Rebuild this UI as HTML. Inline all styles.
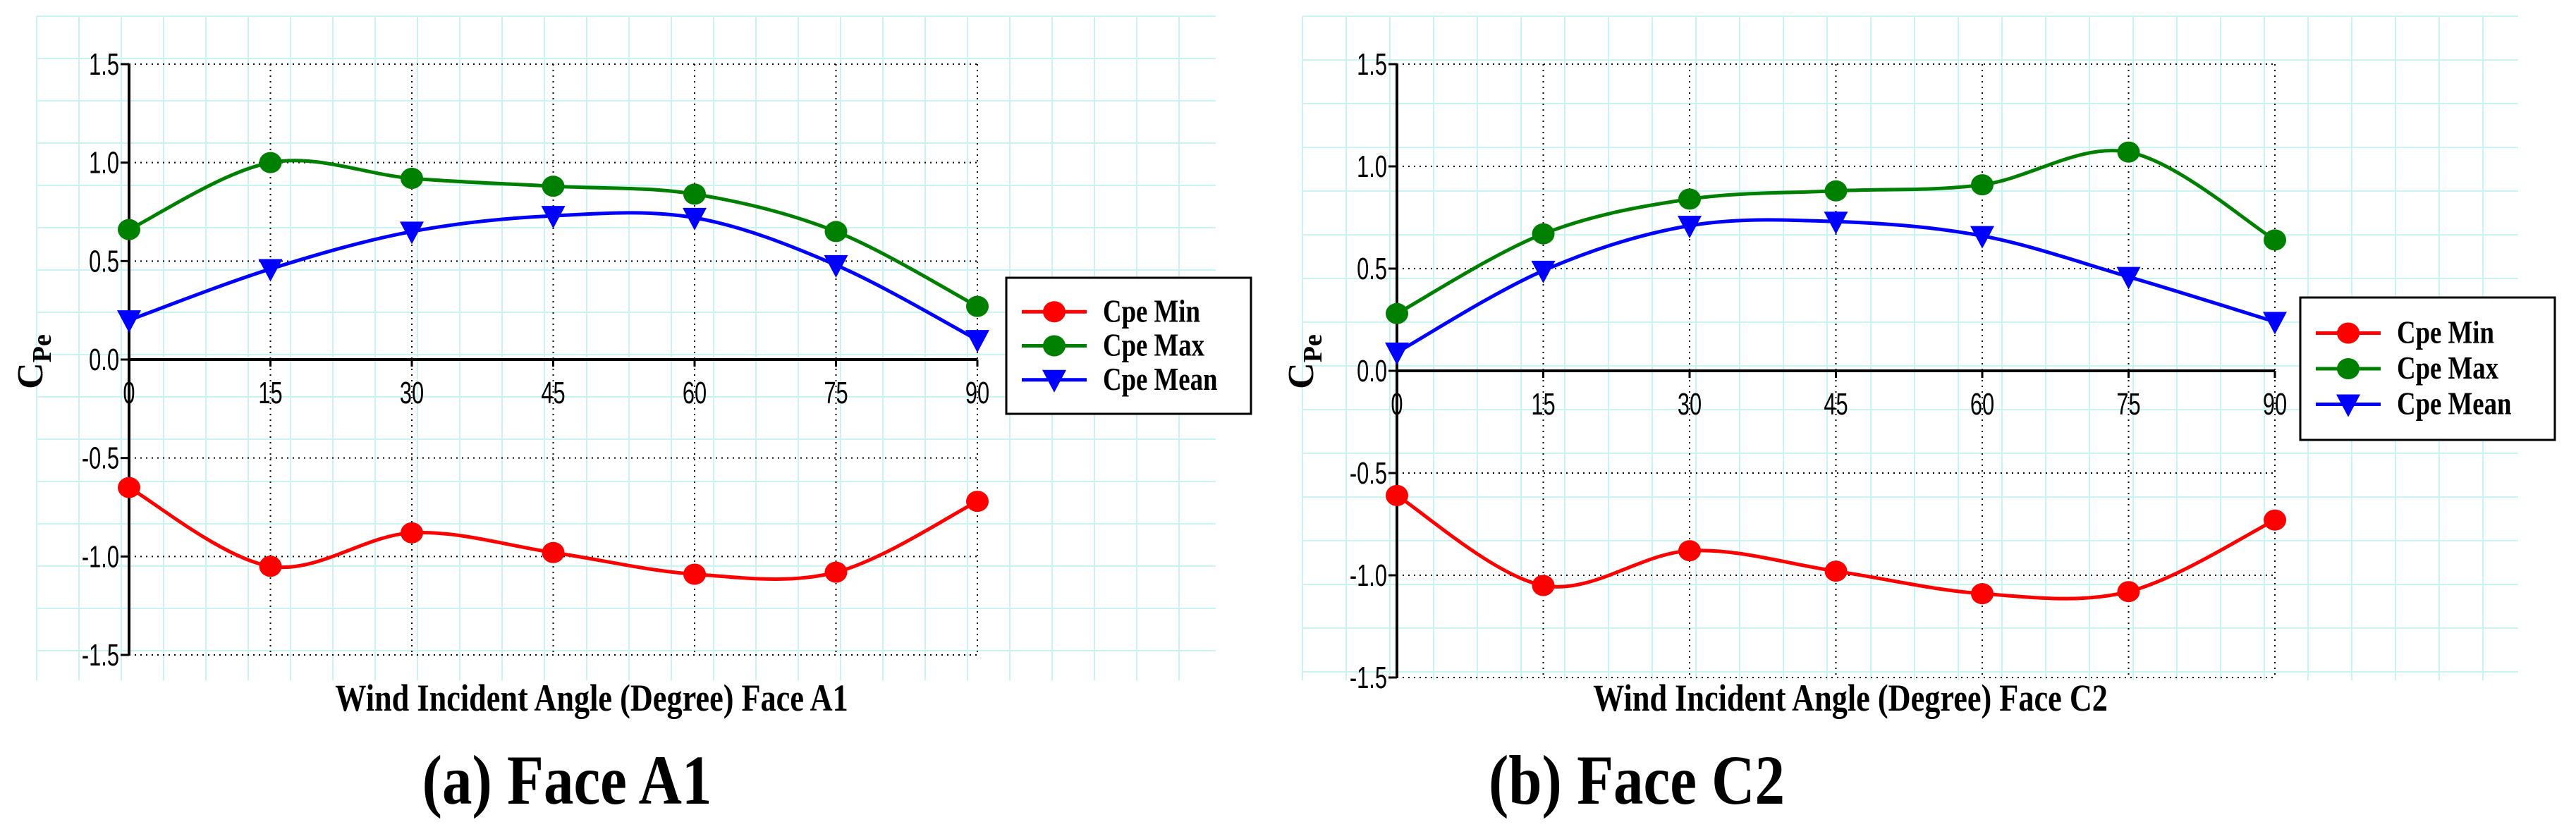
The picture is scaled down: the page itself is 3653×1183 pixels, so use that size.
<!DOCTYPE html>
<html><head><meta charset="utf-8"><style>
html,body{margin:0;padding:0;background:#fff;}
svg{display:block;}
</style></head><body>
<svg id="fig" width="3653" height="1183" viewBox="0 0 3653 1183" xmlns="http://www.w3.org/2000/svg"></svg>
<script>
const angles = [0, 15, 30, 45, 60, 75, 90];
const yTicks = [1.5, 1.0, 0.5, 0.0, -0.5, -1.0, -1.5];
const yTickLabels = ["1.5", "1.0", "0.5", "0.0", "-0.5", "-1.0", "-1.5"];
const seriesNames = ["Cpe Min", "Cpe Max", "Cpe Mean"];
const a1Min = [-0.65, -1.05, -0.88, -0.98, -1.09, -1.08, -0.72];
const a1Max = [0.66, 1.00, 0.92, 0.88, 0.84, 0.65, 0.27];
const a1Mean = [0.20, 0.46, 0.65, 0.73, 0.72, 0.48, 0.10];
const c2Min = [-0.61, -1.05, -0.88, -0.98, -1.09, -1.08, -0.73];
const c2Max = [0.28, 0.67, 0.84, 0.88, 0.91, 1.07, 0.64];
const c2Mean = [0.09, 0.49, 0.71, 0.73, 0.66, 0.46, 0.24];

const NS = "http://www.w3.org/2000/svg";
const svg = document.getElementById("fig");
function mk(tag, attrs, parent) {
  const e = document.createElementNS(NS, tag);
  for (const k in attrs) e.setAttribute(k, attrs[k]);
  (parent || svg).appendChild(e);
  return e;
}
function ctext(x, y, sx, attrs, parent) {
  const a = Object.assign({transform: "translate(" + x + "," + y + ") scale(" + sx + ",1)"}, attrs);
  return mk("text", a, parent);
}
function spline(pts) {
  let d = "M" + pts[0][0] + "," + pts[0][1];
  for (let i = 0; i < pts.length - 1; i++) {
    const p0 = pts[i - 1] || pts[i], p1 = pts[i], p2 = pts[i + 1], p3 = pts[i + 2] || p2;
    const c1x = p1[0] + (p2[0] - p0[0]) / 6, c1y = p1[1] + (p2[1] - p0[1]) / 6;
    const c2x = p2[0] - (p3[0] - p1[0]) / 6, c2y = p2[1] - (p3[1] - p1[1]) / 6;
    d += " C" + c1x + "," + c1y + " " + c2x + "," + c2y + " " + p2[0] + "," + p2[1];
  }
  return d;
}
function drawChart(cfg, mins, maxs, means) {
  const g = mk("g", {});
  
  
  const X = v => cfg.x0 + (v - 0) / 90 * (cfg.x90 - cfg.x0);
  const Y = v => cfg.y0 - v / 1.5 * (cfg.y0 - cfg.yTop);
  const bg = mk("g", {stroke: "#c8f4f4", "stroke-width": 2}, g);
  
  
  for (let x = cfg.bx0; x <= cfg.bx1 + 1; x += cfg.bs) mk("line", {x1: x, y1: cfg.by0, x2: x, y2: cfg.by1}, bg);
  for (let y = cfg.by0; y <= cfg.by1 + 1; y += cfg.bs) mk("line", {x1: cfg.bx0, y1: y, x2: cfg.bx1, y2: y}, bg);
  yTicks.forEach((t, i) => {
    const y = Y(t);
    if (t !== 0) {
      const l = mk("line", {x1: X(0), y1: y, x2: X(90), y2: y, stroke: "#000", "stroke-width": 2, "stroke-dasharray": "2,6"}, g);
      
      
    }
    mk("line", {x1: X(0) - 12, y1: y, x2: X(0), y2: y, stroke: "#000", "stroke-width": 3}, g);
    const tl = ctext(X(0) - 14, y + 15, 0.7, {"text-anchor": "end", "font-family": "Liberation Sans, sans-serif", "font-size": 44, fill: "#000"}, g);
    tl.textContent = yTickLabels[i];
    
    
  });
  angles.forEach(a => {
    const x = X(a);
    if (a !== 0) {
      const l = mk("line", {x1: x, y1: Y(1.5), x2: x, y2: Y(-1.5), stroke: "#000", "stroke-width": 2, "stroke-dasharray": "2,6"}, g);
      
      
    }
    mk("line", {x1: x, y1: Y(0), x2: x, y2: Y(0) + 10, stroke: "#000", "stroke-width": 3}, g);
    const tl = ctext(x, Y(0) + 62, 0.7, {"text-anchor": "middle", "font-family": "Liberation Sans, sans-serif", "font-size": 44, fill: "#000"}, g);
    tl.textContent = String(a);
    
    
  });
  const ya = mk("line", {x1: X(0), y1: Y(1.5), x2: X(0), y2: Y(-1.5), stroke: "#000", "stroke-width": 4}, g);
  
  
  const xa = mk("line", {x1: X(0), y1: Y(0), x2: X(90), y2: Y(0), stroke: "#000", "stroke-width": 4}, g);
  
  
  const series = [[mins, "#ff0000", "circle"], [maxs, "#008000", "circle"], [means, "#0000ff", "tri"]];
  series.forEach((s, si) => {
    const pts = s[0].map((v, i) => [X(angles[i]), Y(v)]);
    const p = mk("path", {d: spline(pts), fill: "none", stroke: s[1], "stroke-width": 5}, g);
    
    
    pts.forEach(pt => {
      let m;
      if (s[2] === "circle") m = mk("ellipse", {cx: pt[0], cy: pt[1], rx: 16, ry: 15, fill: s[1]}, g);
      else m = mk("polygon", {points: (pt[0] - 17) + "," + (pt[1] - 14) + " " + (pt[0] + 17) + "," + (pt[1] - 14) + " " + pt[0] + "," + (pt[1] + 18), fill: s[1]}, g);
      
      
    });
  });
  const yt = mk("text", {transform: "translate(" + cfg.ytx + "," + cfg.yty + ") rotate(-90)", "text-anchor": "middle", "font-family": "Liberation Serif, serif", "font-weight": "bold", "font-size": 52, fill: "#000"}, g);
  yt.innerHTML = 'C<tspan font-size="38" dy="12">Pe</tspan>';
  
  
  const xt = ctext(cfg.xtx, 1008, 0.82, {"text-anchor": "middle", "font-family": "Liberation Serif, serif", "font-weight": "bold", "font-size": 54, fill: "#000"}, g);
  xt.textContent = cfg.xtitle;
  
  
  const cp = ctext(cfg.capx, 1140, 0.85, {"text-anchor": "middle", "font-family": "Liberation Serif, serif", "font-weight": "bold", "font-size": 100, fill: "#000", "xml:space": "preserve"}, g);
  cp.textContent = cfg.caption;
  
  
  const lg = mk("g", {}, g);
  
  
  mk("rect", {x: cfg.lx, y: cfg.ly, width: cfg.lw, height: cfg.lh, fill: "#fff", stroke: "#000", "stroke-width": 3}, lg);
  series.forEach((s, si) => {
    const y = cfg.ly + cfg.lh * (0.25 + 0.25 * si);
    const sx = cfg.lx + 22;
    mk("line", {x1: sx, y1: y, x2: sx + 92, y2: y, stroke: s[1], "stroke-width": 5}, lg);
    let m;
    if (s[2] === "circle") m = mk("ellipse", {cx: sx + 46, cy: y, rx: 16, ry: 15, fill: s[1]}, lg);
    else m = mk("polygon", {points: (sx + 29) + "," + (y - 14) + " " + (sx + 63) + "," + (y - 14) + " " + (sx + 46) + "," + (y + 18), fill: s[1]}, lg);
    const t = ctext(sx + 115, y + 14, 0.8, {"font-family": "Liberation Serif, serif", "font-weight": "bold", "font-size": 46, fill: "#000"}, lg);
    t.textContent = seriesNames[si];
    
    
  });
}
drawChart({name: "chart-face-a1", x0: 183, x90: 1386, y0: 510, yTop: 91,
  bx0: 52, bx1: 1724, by0: 23, by1: 965, bs: 60,
  ytx: 60, yty: 513, xtx: 839, xtitle: "Wind Incident Angle (Degree) Face A1",
  capx: 804, caption: "(a)  Face A1", lx: 1427, ly: 394, lw: 347, lh: 193}, a1Min, a1Max, a1Mean);
drawChart({name: "chart-face-c2", x0: 1981, x90: 3226, y0: 526, yTop: 91,
  bx0: 1847, bx1: 3571, by0: 23, by1: 965, bs: 62,
  ytx: 1862, yty: 513, xtx: 2624, xtitle: "Wind Incident Angle (Degree) Face C2",
  capx: 2321, caption: "(b) Face C2", lx: 3262, ly: 422, lw: 361, lh: 202}, c2Min, c2Max, c2Mean);
</script>
</body></html>
